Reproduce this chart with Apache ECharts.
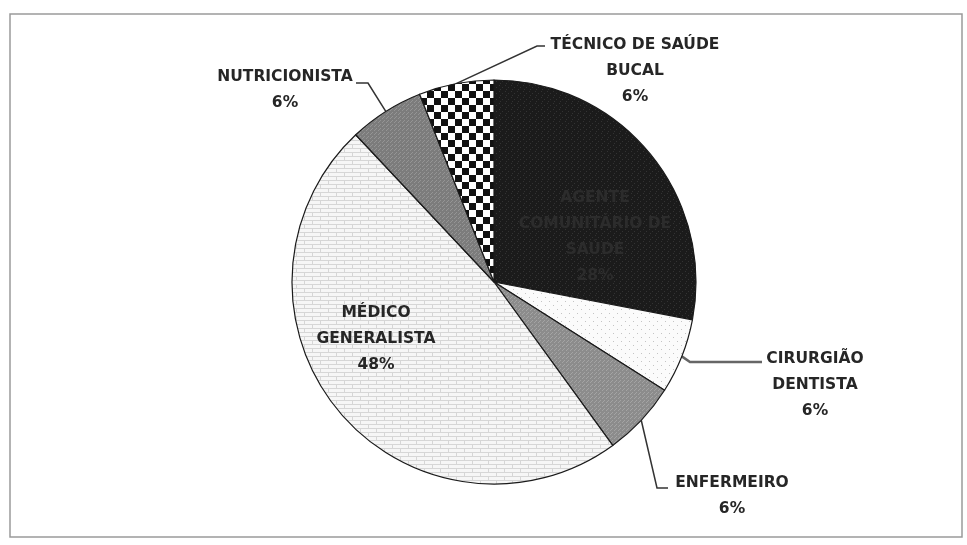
<!DOCTYPE html>
<html>
<head>
<meta charset="utf-8">
<script src="https://cdn.jsdelivr.net/npm/echarts@6/dist/echarts.min.js"></script>
<style>
  html, body { margin: 0; padding: 0; background: #fff; }
  #chart { width: 967px; height: 545px; }
</style>
</head>
<body>
<div id="chart"></div>
<script>
// dados (percentuais)
const categories = [
  "AGENTE\nCOMUNITÁRIO DE\nSAÚDE",
  "CIRURGIÃO\nDENTISTA",
  "ENFERMEIRO",
  "MÉDICO\nGENERALISTA",
  "NUTRICIONISTA",
  "TÉCNICO DE SAÚDE\nBUCAL",
];
const values = [28, 6, 6, 48, 6, 6];

// texturas das fatias
function makePattern(w, h, draw) {
  const c = document.createElement("canvas");
  c.width = w;
  c.height = h;
  draw(c.getContext("2d"));
  return { image: c, repeat: "repeat" };
}

const darkFill = makePattern(6, 6, (g) => {
  g.fillStyle = "#1b1b1b";
  g.fillRect(0, 0, 6, 6);
  g.fillStyle = "#333";
  g.fillRect(1, 1, 1, 1);
  g.fillRect(4, 3, 1, 1);
  g.fillRect(2, 5, 1, 1);
});
const dotFill = makePattern(8, 8, (g) => {
  g.fillStyle = "#fbfbfb";
  g.fillRect(0, 0, 8, 8);
  g.fillStyle = "#c4c4c4";
  g.fillRect(1, 1, 1, 1);
  g.fillRect(5, 5, 1, 1);
});
const greyFill = (base, spot) =>
  makePattern(4, 4, (g) => {
    g.fillStyle = base;
    g.fillRect(0, 0, 4, 4);
    g.fillStyle = spot;
    g.fillRect(0, 0, 1, 1);
    g.fillRect(2, 2, 1, 1);
    g.fillRect(3, 1, 1, 1);
  });
const brickFill = makePattern(16, 8, (g) => {
  g.fillStyle = "#f6f6f6";
  g.fillRect(0, 0, 16, 8);
  g.fillStyle = "#d6d6d6";
  g.fillRect(0, 0, 16, 1);
  g.fillRect(0, 4, 16, 1);
  g.fillRect(0, 0, 1, 4);
  g.fillRect(8, 4, 1, 4);
});
const checkFill = makePattern(14, 14, (g) => {
  g.fillStyle = "#fff";
  g.fillRect(0, 0, 14, 14);
  g.fillStyle = "#111";
  g.fillRect(0, 0, 7, 7);
  g.fillRect(7, 7, 7, 7);
});

const fills = [
  darkFill,
  dotFill,
  greyFill("#8c8c8c", "#a4a4a4"),
  brickFill,
  greyFill("#7c7c7c", "#959595"),
  checkFill,
];

// posição dos rótulos (x centro, y topo) e pontos da linha guia
const labelPos = [
  { x: 595, y: 185, line: null },
  { x: 815, y: 346, line: [[690, 362], [762, 362]] },
  { x: 732, y: 470, line: [[657, 488], [668, 488]] },
  { x: 376, y: 300, line: null },
  { x: 285, y: 64, line: [[368, 83], [356, 83]] },
  { x: 635, y: 32, line: [[537, 46], [545, 46]] },
];

const chart = echarts.init(document.getElementById("chart"));

const pieData = categories.map((name, i) => {
  const inside = labelPos[i].line === null;
  const item = {
    name: name,
    value: values[i],
    itemStyle: { color: fills[i] },
    label: {
      color: i === 0 ? "#2c2c2c" : "#262626",
    },
    labelLine: { show: !inside },
  };
  if (i === 1) {
    item.labelLine.lineStyle = { color: "#666", width: 2.5 };
  }
  return item;
});

const option = {
  animation: false,
  backgroundColor: "#fff",
  graphic: [
    {
      type: "rect",
      shape: { x: 10, y: 14, width: 952, height: 523 },
      style: { fill: "none", stroke: "#9a9a9a", lineWidth: 1.5 },
      silent: true,
    },
  ],
  series: [
    {
      type: "pie",
      center: [494, 282],
      radius: 202,
      startAngle: 90,
      clockwise: true,
      avoidLabelOverlap: false,
      itemStyle: { borderColor: "#1a1a1a", borderWidth: 1.2 },
      label: {
        show: true,
        position: "outside",
        formatter: "{b}\n{d}%",
        fontFamily: "DejaVu Sans",
        fontWeight: "bold",
        fontSize: 15.5,
        lineHeight: 26,
        align: "center",
      },
      labelLine: {
        show: true,
        lineStyle: { color: "#333", width: 1.5 },
      },
      labelLayout: function (params) {
        const p = labelPos[params.dataIndex];
        const out = {
          x: p.x,
          y: p.y,
          align: "center",
          verticalAlign: "top",
        };
        if (p.line && params.labelLinePoints) {
          out.labelLinePoints = [params.labelLinePoints[0]].concat(p.line);
        }
        return out;
      },
      data: pieData,
    },
  ],
};

chart.setOption(option);
</script>
</body>
</html>
